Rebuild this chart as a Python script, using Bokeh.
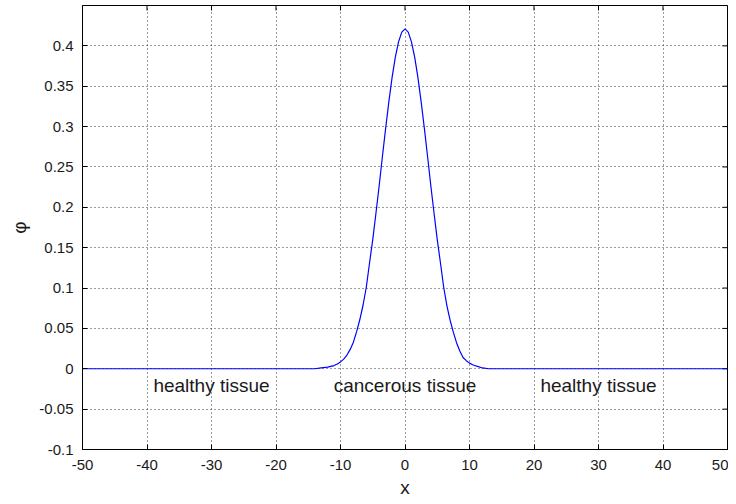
import math
from bokeh.plotting import figure
from bokeh.models import Range1d, FixedTicker, CustomJSTickFormatter, ColumnDataSource
from bokeh.core.properties import value
from bokeh.embed import file_html
from bokeh.resources import INLINE

# curve values
x_vals = [-50, -40, -30, -20, -15, -14, -13, -12, -11, -10.5, -10, -9.5, -9, -8.5, -8, -7.5, -7, -6.5, -6,
          -5.5, -5, -4.5, -4, -3.5, -3, -2.5, -2, -1.5, -1, -0.5, 0,
          0.5, 1, 1.5, 2, 2.5, 3, 3.5, 4, 4.5, 5, 5.5, 6, 6.5, 7, 7.5, 8, 8.5, 9, 9.5, 10,
          10.5, 11, 12, 13, 14, 15, 20, 30, 40, 50]
phi_vals = [0, 0, 0, 0, 0, 0, 0.001, 0.002, 0.004, 0.006, 0.0085, 0.012, 0.017, 0.024, 0.033, 0.046, 0.061, 0.079, 0.101,
            0.131, 0.16, 0.193, 0.227, 0.263, 0.298, 0.331, 0.361, 0.386, 0.405, 0.417, 0.421,
            0.417, 0.405, 0.386, 0.361, 0.331, 0.298, 0.263, 0.227, 0.193, 0.16, 0.131, 0.101, 0.078, 0.06, 0.045, 0.032, 0.022, 0.014, 0.01, 0.007,
            0.005, 0.0035, 0.001, 0, 0, 0, 0, 0, 0, 0]

x_ticks = [-50, -40, -30, -20, -10, 0, 10, 20, 30, 40, 50]
y_ticks = [-0.1, -0.05, 0, 0.05, 0.1, 0.15, 0.2, 0.25, 0.3, 0.35, 0.4]

label_x = [-30, 0, 30]
label_y = [-0.021, -0.021, -0.021]
label_text = ["healthy tissue", "cancerous tissue", "healthy tissue"]

X_MIN, X_MAX = -50, 50
Y_MIN, Y_MAX = -0.1, 0.45

FONT = "Liberation Sans"

p = figure(width=728, height=500, output_backend="svg", toolbar_location=None,
           x_range=Range1d(X_MIN, X_MAX), y_range=Range1d(Y_MIN, Y_MAX),
           min_border_left=82, min_border_right=1, min_border_top=5, min_border_bottom=50)
p.background_fill_color = "white"
p.border_fill_color = "white"
p.outline_line_color = "black"
p.outline_line_width = 1

for g in (p.xgrid[0], p.ygrid[0]):
    g.grid_line_color = "#222222"
    g.grid_line_dash = "1 3"
    g.grid_line_width = 1
    g.grid_line_alpha = 0.9
p.xgrid[0].ticker = FixedTicker(ticks=x_ticks)
p.ygrid[0].ticker = FixedTicker(ticks=y_ticks)

# inward tick marks on the top and right edges (MATLAB box style)
p.scatter(x=x_ticks, y=[Y_MAX] * len(x_ticks), marker="dash", angle=math.pi / 2,
          size=10, line_color="black", line_width=1)
p.scatter(x=[X_MAX] * len(y_ticks), y=y_ticks, marker="dash",
          size=10, line_color="black", line_width=1)

p.line(x_vals, phi_vals, line_color="#0000ff", line_width=1.2)

src = ColumnDataSource(dict(x=label_x, y=label_y, t=label_text))
p.text("x", "y", text="t", source=src, text_align="center", text_baseline="middle",
       text_font=value(FONT), text_font_size="19px", text_color="#1a1a1a")

fmt = CustomJSTickFormatter(code="return String(Math.round(tick*1000)/1000);")

for ax in (p.xaxis[0], p.yaxis[0]):
    ax.major_tick_in = 5
    ax.major_tick_out = 0
    ax.minor_tick_in = 0
    ax.minor_tick_out = 0
    ax.axis_line_color = "black"
    ax.major_tick_line_color = "black"
    ax.major_label_text_font = FONT
    ax.major_label_text_font_size = "15px"
    ax.major_label_text_color = "#1a1a1a"
    ax.axis_label_text_font = FONT
    ax.axis_label_text_font_size = "19px"
    ax.axis_label_text_font_style = "normal"
    ax.axis_label_text_color = "#1a1a1a"
    ax.formatter = fmt

p.xaxis[0].ticker = FixedTicker(ticks=x_ticks)
p.yaxis[0].ticker = FixedTicker(ticks=y_ticks)
p.xaxis[0].axis_label = "x"
p.yaxis[0].axis_label = "φ"
p.xaxis[0].major_label_standoff = 10
p.yaxis[0].major_label_standoff = 9
p.xaxis[0].axis_label_standoff = 4
p.yaxis[0].axis_label_standoff = 6

open("out.html", "w").write(file_html(p, INLINE))
